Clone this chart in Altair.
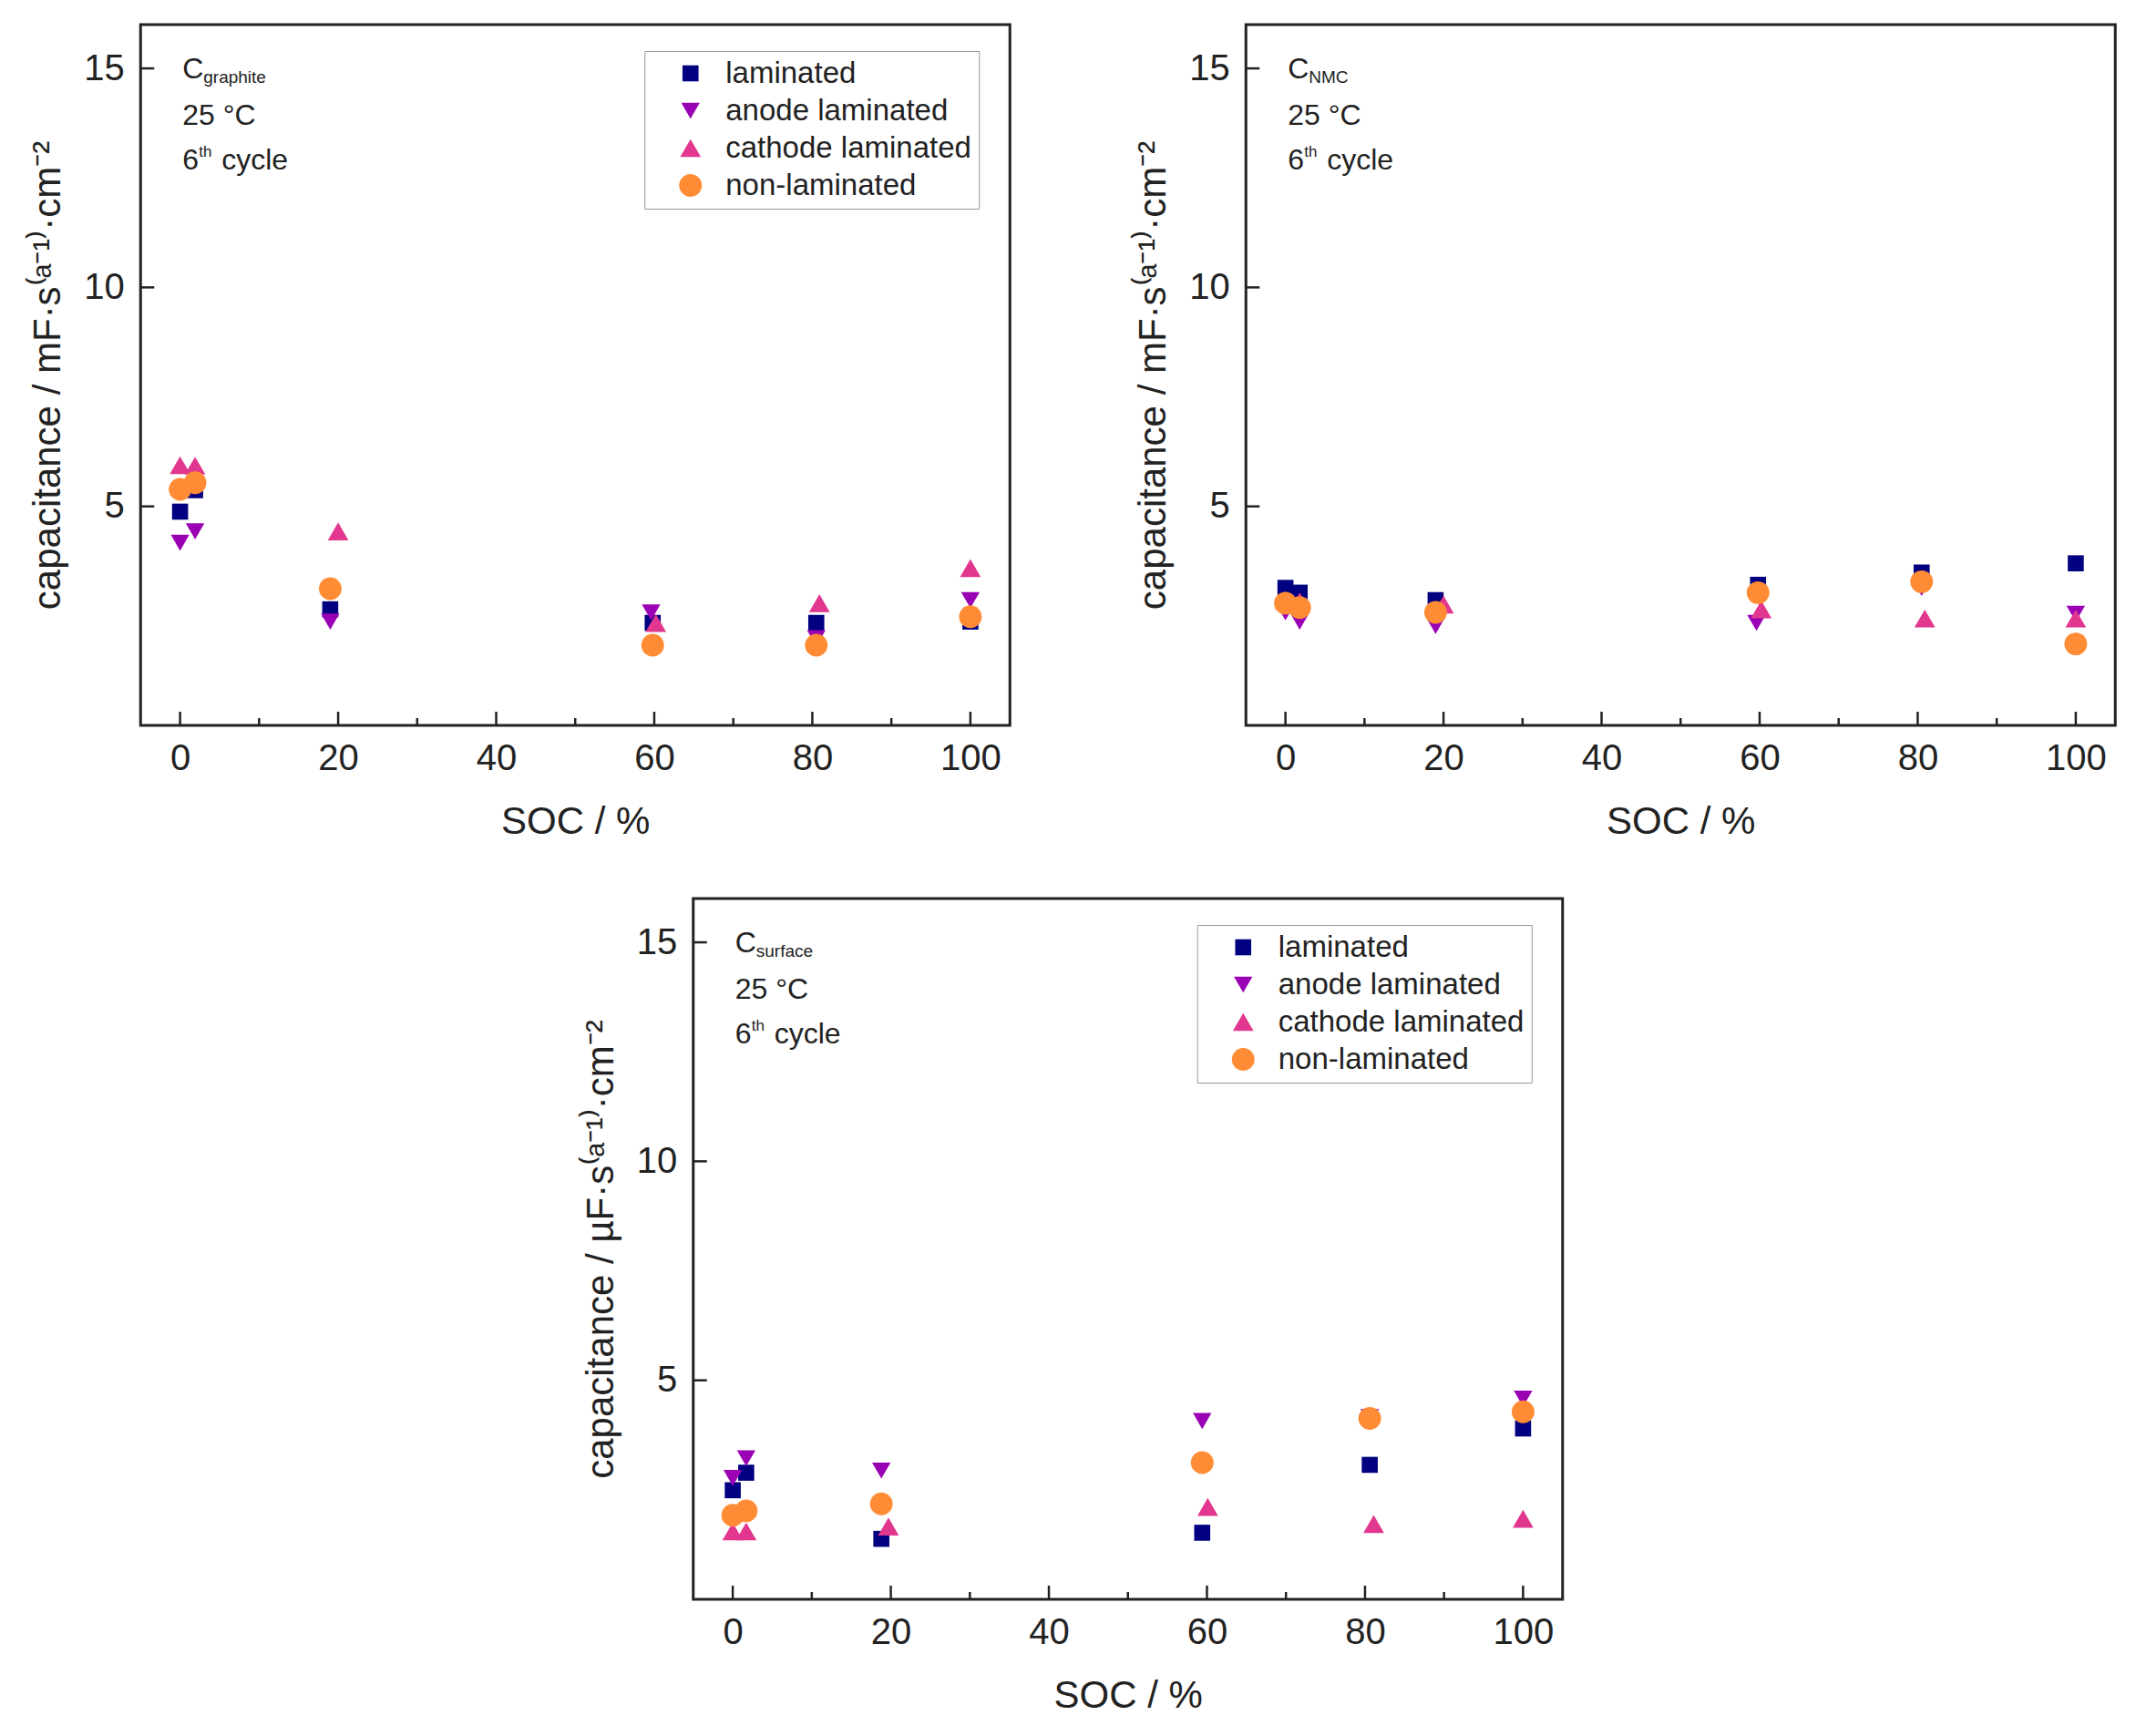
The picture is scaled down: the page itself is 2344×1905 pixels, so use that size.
import altair as alt
import pandas as pd

# ---------------- data ----------------
SERIES = ["laminated", "anode laminated", "cathode laminated", "non-laminated"]
COLORS = ["#000080", "#9A00B4", "#E2378F", "#FF8C35"]
SHAPES = ["square", "triangle-down", "triangle-up", "circle"]
SIZES = [310, 620, 620, 320]

X_MAJOR = [0, 20, 40, 60, 80, 100]
X_MINOR = [10, 30, 50, 70, 90]
Y_MAJOR = [5, 10, 15]

# graphite panel
G_LAM_X = [0, 1.9, 19, 59.8, 80.5, 100]
G_LAM_Y = [4.88, 5.37, 2.65, 2.34, 2.34, 2.37]
G_ANO_X = [0, 1.9, 19, 59.6, 80.5, 100]
G_ANO_Y = [4.17, 4.43, 2.37, 2.58, 1.99, 2.86]
G_CAT_X = [0, 1.9, 20, 60.2, 80.9, 100]
G_CAT_Y = [5.94, 5.93, 4.43, 2.34, 2.79, 3.59]
G_NON_X = [0, 1.9, 19, 59.8, 80.5, 100]
G_NON_Y = [5.39, 5.54, 3.12, 1.83, 1.83, 2.48]

# NMC panel
N_LAM_X = [0, 1.8, 19, 59.8, 80.5, 100]
N_LAM_Y = [3.14, 3.03, 2.86, 3.21, 3.49, 3.70]
N_ANO_X = [0, 1.8, 19, 59.6, 80.5, 100]
N_ANO_Y = [2.58, 2.37, 2.27, 2.34, 3.14, 2.55]
N_CAT_X = [0, 1.8, 20, 60.2, 80.9, 100]
N_CAT_Y = [2.86, 2.83, 2.76, 2.65, 2.44, 2.44]
N_NON_X = [0, 1.8, 19, 59.8, 80.5, 100]
N_NON_Y = [2.79, 2.69, 2.58, 3.03, 3.28, 1.86]

# surface panel
S_LAM_X = [0, 1.7, 18.8, 59.4, 80.6, 100]
S_LAM_Y = [2.49, 2.89, 1.38, 1.52, 3.07, 3.90]
S_ANO_X = [0, 1.7, 18.8, 59.4, 80.6, 100]
S_ANO_Y = [2.77, 3.22, 2.94, 4.07, 4.16, 4.58]
S_CAT_X = [0, 1.7, 19.7, 60.1, 81.1, 100]
S_CAT_Y = [1.55, 1.55, 1.66, 2.11, 1.72, 1.84]
S_NON_X = [0, 1.7, 18.8, 59.4, 80.6, 100]
S_NON_Y = [1.92, 2.02, 2.18, 3.12, 4.13, 4.28]

# ---------------- layout ----------------
W, H = 954, 769
FONT = "Liberation Sans"
INK = "#222222"


def table(xs_list, ys_list):
    rows = []
    for k, (name, xs, ys) in enumerate(zip(SERIES, xs_list, ys_list)):
        for x, y in zip(xs, ys):
            rows.append({"series": name, "idx": k, "soc": x, "cap": y})
    return pd.DataFrame(rows)


def panel(df, sub, unit_prefix):
    xscale = alt.Scale(domain=[-5, 105], nice=False, zero=False)
    yscale = alt.Scale(domain=[0, 16], nice=False, zero=False)
    ytitle = "capacitance / " + unit_prefix + "F\u00b7s\u207d\u1d43\u207b\u00b9\u207e\u00b7cm\u207b\u00b2"
    xaxis = alt.Axis(title="SOC / %", values=X_MAJOR, labelPadding=16, titlePadding=29)
    yaxis = alt.Axis(title=ytitle, values=Y_MAJOR, labelPadding=18, titlePadding=17)

    points = alt.Chart(df).mark_point(filled=True, opacity=1, strokeWidth=0).encode(
        x=alt.X("soc:Q", scale=xscale, axis=xaxis),
        y=alt.Y("cap:Q", scale=yscale, axis=yaxis),
        color=alt.Color("series:N", scale=alt.Scale(domain=SERIES, range=COLORS),
                        legend=alt.Legend(title=None, orient="none", legendX=553, legendY=29)),
        shape=alt.Shape("series:N", scale=alt.Scale(domain=SERIES, range=SHAPES)),
        size=alt.Size("series:N", scale=alt.Scale(domain=SERIES, range=SIZES), legend=None),
        order=alt.Order("idx:Q"),
    )

    major = alt.Chart(pd.DataFrame({"soc": X_MAJOR})).mark_rule(color=INK, strokeWidth=2.5).encode(
        x=alt.X("soc:Q", scale=xscale, axis=xaxis), y=alt.value(H), y2=alt.value(H - 15))
    minor = alt.Chart(pd.DataFrame({"soc": X_MINOR})).mark_rule(color=INK, strokeWidth=2.5).encode(
        x=alt.X("soc:Q", scale=xscale, axis=xaxis), y=alt.value(H), y2=alt.value(H - 8))
    yticks = alt.Chart(pd.DataFrame({"cap": Y_MAJOR})).mark_rule(color=INK, strokeWidth=2.5).encode(
        y=alt.Y("cap:Q", scale=yscale, axis=yaxis), x=alt.value(0), x2=alt.value(15))

    def txt(s, x, y, size):
        return alt.Chart(pd.DataFrame({"s": [s]})).mark_text(
            align="left", baseline="alphabetic", font=FONT, fontSize=size, color=INK
        ).encode(text="s:N", x=alt.value(x), y=alt.value(y))

    notes = [
        txt("C", 46, 59, 32),
        txt(sub, 69, 64, 19),
        txt("25 \u00b0C", 46, 110, 32),
        txt("6", 46, 159, 32),
        txt("th", 64, 145, 17),
        txt("cycle", 89, 159, 32),
    ]
    return alt.layer(points, major, minor, yticks, *notes).properties(width=W, height=H)


p1 = panel(table([G_LAM_X, G_ANO_X, G_CAT_X, G_NON_X], [G_LAM_Y, G_ANO_Y, G_CAT_Y, G_NON_Y]),
           "graphite", "m")
p2 = panel(table([N_LAM_X, N_ANO_X, N_CAT_X, N_NON_X], [N_LAM_Y, N_ANO_Y, N_CAT_Y, N_NON_Y]),
           "NMC", "m")
p3 = panel(table([S_LAM_X, S_ANO_X, S_CAT_X, S_NON_X], [S_LAM_Y, S_ANO_Y, S_CAT_Y, S_NON_Y]),
           "surface", "\u00b5")

top = alt.hconcat(p1, p2, spacing=133)
chart = alt.vconcat(top, p3, spacing=60, center=True).resolve_scale(
    color="independent", shape="independent", size="independent"
).properties(
    padding={"left": 22, "top": 17, "right": 5, "bottom": 5}
).configure_view(
    stroke=INK, strokeWidth=3
).configure_axis(
    domain=False, ticks=False, grid=False,
    labelFont=FONT, labelFontSize=40, labelColor=INK,
    titleFont=FONT, titleFontSize=42, titleFontWeight="normal", titleColor=INK,
).configure_legend(
    labelFont=FONT, labelFontSize=33, labelColor=INK, labelLimit=500,
    symbolSize=300, symbolStrokeWidth=0, symbolOffset=26, labelOffset=22,
    padding=8, rowPadding=7, strokeColor="#999999", fillColor="white",
)

chart.save("out.html", embed_options={"renderer": "svg", "actions": False})
